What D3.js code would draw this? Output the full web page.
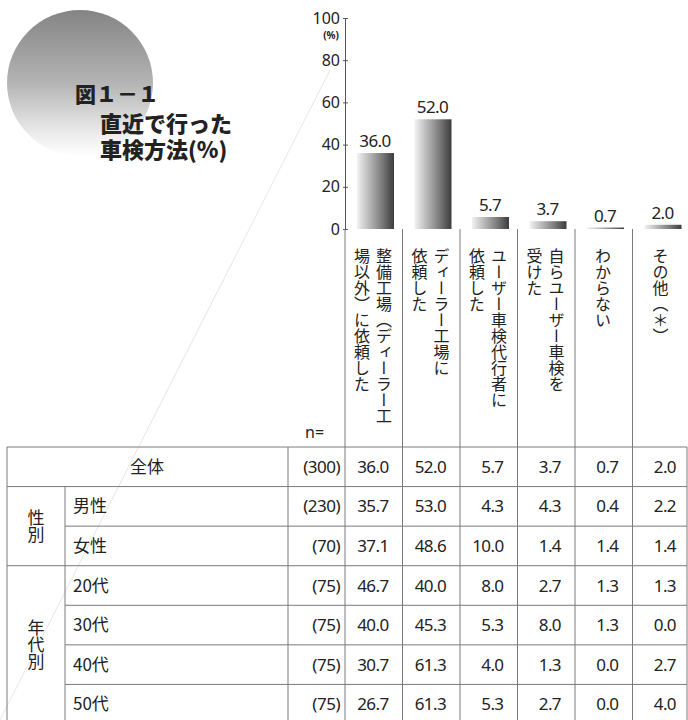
<!DOCTYPE html>
<html>
<head>
<meta charset="utf-8">
<script src="https://cdn.jsdelivr.net/npm/d3@7"></script>
<style>
  html, body { margin: 0; padding: 0; background: #fff; }
  svg { display: block; }
  text { font-family: "Noto Sans", "Noto Sans CJK JP", sans-serif; fill: #222; }
  .jp { font-family: "Noto Sans CJK JP", "Noto Sans", sans-serif; }
</style>
</head>
<body>
<svg id="chart" width="688" height="720"></svg>
<script>
// Survey answer categories (column headers, written vertically)
const methods = ["整備工場", "ディーラー工場", "代行者", "ユーザー車検", "わからない", "その他"];
const methodLabels = [
  ["整備工場（ディーラー工", "場以外）に依頼した"],
  ["ディーラー工場に", "依頼した"],
  ["ユーザー車検代行者に", "依頼した"],
  ["自らユーザー車検を", "受けた"],
  ["わからない"],
  ["その他（＊）"]
];

// Table rows
const rowLabels = ["全体", "男性", "女性", "20代", "30代", "40代", "50代"];
const rowGroups = [
  { label: "性別", from: 1, to: 2 },
  { label: "年代別", from: 3, to: 6 }
];
const sampleSizes = ["(300)", "(230)", "(70)", "(75)", "(75)", "(75)", "(75)"];

// Percentages per row (one value per method)
const total   = [36.0, 52.0, 5.7, 3.7, 0.7, 2.0];
const male    = [35.7, 53.0, 4.3, 4.3, 0.4, 2.2];
const female  = [37.1, 48.6, 10.0, 1.4, 1.4, 1.4];
const age20s  = [46.7, 40.0, 8.0, 2.7, 1.3, 1.3];
const age30s  = [40.0, 45.3, 5.3, 8.0, 1.3, 0.0];
const age40s  = [30.7, 61.3, 4.0, 1.3, 0.0, 2.7];
const age50s  = [26.7, 61.3, 5.3, 2.7, 0.0, 4.0];
const tableValues = [total, male, female, age20s, age30s, age40s, age50s];

// Axis ticks
const yTicks = [0, 20, 40, 60, 80, 100];

// Title lines
const titleNumber = "図１－１";
const titleLines = ["直近で行った", "車検方法(%)"];

const svg = d3.select("#chart");
const defs = svg.append("defs");

// Grey disc behind the title
const disc = defs.append("linearGradient").attr("id", "disc")
  .attr("x1", 0).attr("y1", 0).attr("x2", 0).attr("y2", 1);
disc.append("stop").attr("offset", 0).attr("stop-color", "#848484");
disc.append("stop").attr("offset", 0.5).attr("stop-color", "#b4b4b4");
disc.append("stop").attr("offset", 0.85).attr("stop-color", "#ececec");
disc.append("stop").attr("offset", 1).attr("stop-color", "#ffffff");

// Bar shading, light on the left, dark on the right
const barGrad = defs.append("linearGradient").attr("id", "bar")
  .attr("x1", 0).attr("y1", 0).attr("x2", 1).attr("y2", 0);
barGrad.append("stop").attr("offset", 0).attr("stop-color", "#f2f2f2");
barGrad.append("stop").attr("offset", 0.65).attr("stop-color", "#808080");
barGrad.append("stop").attr("offset", 1).attr("stop-color", "#3c3c3c");

// faint decorative diagonal
svg.append("line").attr("x1", 330).attr("y1", 70).attr("x2", 0).attr("y2", 720)
  .attr("stroke", "#e6e6e6").attr("stroke-width", 1);

svg.append("circle").attr("cx", 80).attr("cy", 83).attr("r", 73).attr("fill", "url(#disc)");

// Title
svg.append("text").attr("class", "jp").attr("x", 75).attr("y", 102)
  .style("font-size", "21px").style("font-weight", 900).text(titleNumber);
const titleText = svg.append("text").attr("class", "jp")
  .style("font-size", "22px").style("font-weight", 900);
titleLines.forEach((line, i) => {
  titleText.append("tspan").attr("x", 100).attr("y", 132 + i * 26).text(line);
});

// Scales
const x = d3.scaleBand().domain(methods).range([345, 690]).paddingInner(0).paddingOuter(0);
const y = d3.scaleLinear().domain([0, 100]).range([229, 18]);
const rowY = d3.scaleBand().domain(rowLabels).range([447, 724]);

// Y axis
const axis = svg.append("g").attr("transform", "translate(345,0)")
  .call(d3.axisLeft(y).tickValues(yTicks).tickSizeInner(-5).tickSizeOuter(0).tickPadding(5));
axis.select(".domain").attr("stroke", "#555");
axis.selectAll(".tick line").attr("stroke", "#555").attr("transform", "translate(-2,0)");
axis.selectAll(".tick text").style("font-size", "16px").style("font-family", "'Noto Sans', sans-serif")
  .attr("fill", "#222").attr("x", -5);
svg.append("text").attr("x", 339).attr("y", 39).attr("text-anchor", "end")
  .style("font-size", "10px").style("font-weight", 700).text("(%)");

// Bars
svg.append("g").selectAll("rect").data(total).join("rect")
  .attr("x", (d, i) => x(methods[i]) + 12)
  .attr("width", 37)
  .attr("y", d => y(d))
  .attr("height", d => y(0) - y(d))
  .attr("fill", "url(#bar)");

svg.append("g").selectAll("text").data(total).join("text")
  .attr("x", (d, i) => x(methods[i]) + 30)
  .attr("y", d => y(d) - 6)
  .attr("text-anchor", "middle")
  .style("font-size", "17px").style("letter-spacing", "-0.6px")
  .text(d => d.toFixed(1));

// Vertical column headers
const hdr = svg.append("g");
methodLabels.forEach((lines, i) => {
  const x0 = x(methods[i]);
  const offsets = lines.length === 2 ? [39, 17] : [28];
  lines.forEach((line, j) => {
    hdr.append("text").attr("class", "jp")
      .attr("x", x0 + offsets[j]).attr("y", 248)
      .style("writing-mode", "vertical-rl")
      .style("font-size", "16px")
      .text(line);
  });
});
svg.append("text").attr("x", 305).attr("y", 438).style("font-size", "16px").text("n=");

// Grid lines
const grid = svg.append("g").attr("stroke", "#7a7a7a").attr("stroke-width", 1);
const colEdges = x.domain().map(d => x(d));
colEdges.forEach(cx => {
  grid.append("line").attr("x1", cx).attr("x2", cx).attr("y1", 229).attr("y2", 720);
});
[7, 288, 687].forEach(cx => grid.append("line").attr("x1", cx).attr("x2", cx).attr("y1", 447).attr("y2", 720));
grid.append("line").attr("x1", 65).attr("x2", 65).attr("y1", rowY(rowLabels[1])).attr("y2", 720);

rowLabels.forEach((r, i) => {
  const top = rowY(r);
  // rows that start a new group span the whole width
  const full = i === 0 || i === 1 || i === 3;
  grid.append("line").attr("x1", full ? 7 : 65).attr("x2", 687).attr("y1", top).attr("y2", top);
});

// Row labels
const rows = svg.append("g");
rowLabels.forEach((r, i) => {
  const cy = rowY(r) + rowY.bandwidth() / 2 + 6;
  rows.append("text").attr("class", "jp")
    .attr("x", i === 0 ? 147 : 73).attr("y", cy)
    .attr("text-anchor", i === 0 ? "middle" : "start")
    .style("font-size", "17px").text(r);
  rows.append("text").attr("x", 340).attr("y", cy).attr("text-anchor", "end")
    .style("font-size", "17px").style("letter-spacing", "-0.5px").text(sampleSizes[i]);
  tableValues[i].forEach((v, k) => {
    rows.append("text")
      .attr("x", x(methods[k]) + x.bandwidth() - 14).attr("y", cy)
      .attr("text-anchor", "end")
      .style("font-size", "17px").style("letter-spacing", "-0.6px")
      .text(v.toFixed(1));
  });
});

rowGroups.forEach(g => {
  const y0 = rowY(rowLabels[g.from]);
  const y1 = rowY(rowLabels[g.to]) + rowY.bandwidth();
  rows.append("text").attr("class", "jp")
    .attr("x", 36).attr("y", (y0 + y1) / 2)
    .attr("text-anchor", "middle")
    .style("writing-mode", "vertical-rl")
    .style("font-size", "17px")
    .text(g.label);
});
</script>
</body>
</html>
